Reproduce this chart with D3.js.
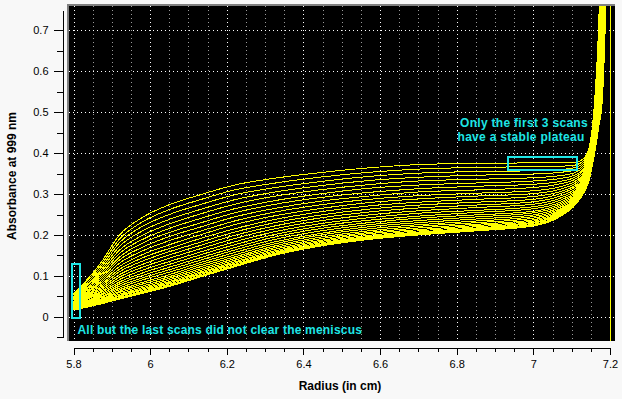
<!DOCTYPE html>
<html><head><meta charset="utf-8">
<script src="https://cdn.jsdelivr.net/npm/d3@7/dist/d3.min.js"></script>
<style>
html,body{margin:0;padding:0;background:#f8f8f8;}
svg{display:block;font-family:"Liberation Sans",Arial,sans-serif;}
</style></head>
<body>
<svg id="chart" width="622" height="399"></svg>
<script>
// radius grid (cm) shared by all scans
const radius = [5.80, 5.87, 5.92, 5.98, 6.05, 6.13, 6.22, 6.32, 6.44, 6.57, 6.70, 6.85, 7.00, 7.07, 7.11, 7.13, 7.145, 7.16, 7.17, 7.18, 7.19];
// absorbance of each scan at those radii (first scan first)
const scans = [
 [.055,.130,.200,.243,.274,.298,.322,.338,.352,.364,.372,.375,.376,.376,.377,.386,.412,.530,.700,1.000,1.300],
 [.053,.124,.190,.232,.262,.286,.310,.326,.341,.353,.361,.365,.367,.368,.371,.381,.407,.522,.685,.971,1.268],
 [.050,.118,.181,.221,.250,.274,.298,.315,.330,.343,.351,.355,.357,.360,.365,.376,.402,.514,.671,.943,1.237],
 [.048,.112,.172,.210,.238,.262,.286,.304,.320,.333,.341,.346,.349,.353,.359,.371,.398,.507,.657,.916,1.207],
 [.046,.107,.163,.199,.227,.251,.275,.294,.310,.323,.332,.336,.340,.345,.353,.366,.393,.500,.644,.890,1.178],
 [.044,.101,.155,.189,.216,.240,.264,.283,.300,.314,.322,.327,.332,.338,.347,.361,.389,.493,.631,.864,1.150],
 [.042,.096,.146,.180,.206,.229,.254,.274,.291,.304,.313,.319,.324,.331,.342,.357,.385,.486,.618,.840,1.123],
 [.040,.091,.139,.170,.196,.219,.244,.264,.282,.295,.305,.310,.316,.325,.337,.352,.381,.479,.606,.816,1.096],
 [.038,.086,.131,.161,.186,.209,.234,.255,.273,.287,.296,.302,.308,.318,.332,.348,.377,.473,.594,.793,1.071],
 [.036,.082,.123,.152,.176,.200,.225,.246,.264,.279,.288,.295,.301,.312,.327,.344,.373,.467,.583,.771,1.046],
 [.034,.077,.116,.144,.167,.191,.215,.237,.256,.271,.280,.287,.294,.306,.322,.340,.369,.461,.572,.750,1.023],
 [.033,.073,.110,.136,.159,.182,.207,.229,.248,.263,.273,.280,.287,.301,.318,.336,.366,.455,.562,.729,1.000],
 [.031,.069,.103,.128,.151,.174,.199,.221,.241,.256,.266,.273,.281,.295,.313,.333,.363,.450,.552,.710,.979],
 [.029,.065,.097,.121,.143,.166,.191,.214,.234,.249,.259,.267,.275,.290,.309,.330,.359,.445,.542,.691,.958],
 [.028,.061,.091,.114,.135,.158,.183,.207,.227,.242,.253,.260,.269,.285,.305,.326,.356,.440,.533,.674,.939],
 [.027,.058,.085,.107,.128,.151,.176,.200,.221,.236,.246,.255,.264,.280,.302,.323,.354,.435,.525,.657,.920],
 [.025,.054,.080,.101,.121,.144,.169,.194,.215,.230,.241,.249,.258,.276,.298,.320,.351,.431,.517,.641,.903],
 [.024,.051,.075,.095,.115,.138,.163,.188,.209,.225,.235,.244,.254,.272,.295,.318,.348,.427,.509,.626,.886],
 [.023,.048,.070,.090,.109,.132,.157,.182,.203,.220,.230,.239,.249,.268,.292,.315,.346,.423,.502,.612,.871],
 [.022,.046,.066,.084,.103,.127,.151,.177,.199,.215,.225,.234,.245,.264,.289,.313,.344,.419,.495,.599,.857],
 [.021,.043,.062,.080,.098,.122,.146,.172,.194,.210,.221,.230,.241,.261,.287,.311,.342,.416,.489,.587,.843],
 [.020,.041,.059,.075,.094,.117,.142,.168,.190,.206,.217,.226,.237,.258,.284,.309,.340,.413,.484,.576,.831],
 [.019,.039,.055,.071,.090,.113,.138,.164,.186,.203,.213,.223,.234,.255,.282,.307,.338,.410,.479,.566,.820],
 [.018,.037,.052,.068,.086,.109,.134,.160,.183,.199,.210,.220,.231,.253,.280,.305,.337,.408,.474,.558,.811],
 [.018,.035,.050,.065,.083,.106,.131,.157,.180,.196,.207,.217,.229,.251,.278,.304,.335,.406,.470,.550,.802],
 [.017,.034,.047,.062,.080,.103,.128,.154,.177,.194,.205,.215,.226,.249,.277,.302,.334,.404,.467,.543,.795],
 [.017,.033,.046,.060,.077,.100,.125,.152,.175,.192,.203,.213,.225,.247,.276,.302,.333,.402,.464,.538,.789],
 [.016,.032,.044,.059,.076,.099,.124,.151,.174,.190,.201,.211,.223,.246,.275,.301,.333,.401,.462,.534,.784],
 [.016,.031,.043,.057,.074,.097,.122,.149,.172,.189,.200,.210,.222,.245,.274,.300,.332,.400,.460,.530,.780]
];
const cellBottom = [7.2];          // vertical marker
const xMajor = [5.8, 6, 6.2, 6.4, 6.6, 6.8, 7, 7.2];
const xMinor = [5.85,5.9,5.95,6.05,6.1,6.15,6.25,6.3,6.35,6.45,6.5,6.55,6.65,6.7,6.75,6.85,6.9,6.95,7.05,7.1,7.15];
const yMajor = [0, 0.1, 0.2, 0.3, 0.4, 0.5, 0.6, 0.7];
const yMinor = [-0.05, 0.05, 0.15, 0.25, 0.35, 0.45, 0.55, 0.65];
const boxMeniscus = [5.795, 5.817, -0.002, 0.13];
const boxPlateau = [6.935, 7.115, 0.36, 0.39];
const noteTop = ["Only the first 3 scans", "have a stable plateau"];
const noteBottom = "All but the last scans did not clear the meniscus";
const xTitle = "Radius (in cm)";
const yTitle = "Absorbance at 999 nm";

const svg = d3.select("#chart");
const W = 622, H = 399;
const plot = {x0: 69, x1: 615, y0: 6, y1: 341};
const x = d3.scaleLinear().domain([5.8, 7.2]).range([73.5, 610]);
const y = d3.scaleLinear().domain([-0.05, 0.75]).range([337.2, 10]);
const cyan = "#1ee6e6";

svg.append("rect").attr("width", W).attr("height", H).attr("fill", "#f8f8f8");
// bevel border + black plot
svg.append("rect").attr("x", plot.x0 - 2).attr("y", plot.y0 - 2)
  .attr("width", plot.x1 - plot.x0 + 2).attr("height", plot.y1 - plot.y0 + 2).attr("fill", "#808080");
svg.append("rect").attr("x", plot.x0).attr("y", plot.y0)
  .attr("width", plot.x1 - plot.x0).attr("height", plot.y1 - plot.y0).attr("fill", "#000");

svg.append("clipPath").attr("id", "clip").append("rect")
  .attr("x", plot.x0).attr("y", plot.y0).attr("width", plot.x1 - plot.x0).attr("height", plot.y1 - plot.y0);

const g = svg.append("g").attr("clip-path", "url(#clip)");
// grid
g.selectAll(".vmin").data(xMinor).join("line")
  .attr("x1", d => Math.round(x(d)) + 0.5).attr("x2", d => Math.round(x(d)) + 0.5)
  .attr("y1", plot.y0).attr("y2", plot.y1)
  .attr("stroke", "#9a9a9a").attr("stroke-dasharray", "1,3").attr("shape-rendering", "crispEdges");
g.selectAll(".vmaj").data(xMajor).join("line")
  .attr("x1", d => Math.round(x(d)) + 0.5).attr("x2", d => Math.round(x(d)) + 0.5)
  .attr("y1", plot.y0).attr("y2", plot.y1)
  .attr("stroke", "#fff").attr("stroke-dasharray", "1,3").attr("shape-rendering", "crispEdges");
g.selectAll(".hmaj").data(yMajor).join("line")
  .attr("y1", d => Math.round(y(d)) + 0.5).attr("y2", d => Math.round(y(d)) + 0.5)
  .attr("x1", plot.x0).attr("x2", plot.x1)
  .attr("stroke", "#fff").attr("stroke-dasharray", "1,3").attr("shape-rendering", "crispEdges");

// scans
const line = d3.line().x((d, i) => x(radius[i])).y(d => y(d)).curve(d3.curveMonotoneX);
g.selectAll(".scan").data(scans.slice().reverse()).join("path")
  .attr("d", line).attr("fill", "none").attr("stroke", "#ffff00").attr("stroke-width", 1)
  .attr("shape-rendering", "crispEdges");
g.selectAll(".cb").data(cellBottom).join("line")
  .attr("x1", d => Math.round(x(d)) + 0.5).attr("x2", d => Math.round(x(d)) + 0.5)
  .attr("y1", plot.y0).attr("y2", plot.y1).attr("stroke", "#ffff00").attr("shape-rendering", "crispEdges");

// boxes
[boxMeniscus, boxPlateau].forEach(b => {
  svg.append("rect").attr("x", x(b[0])).attr("y", y(b[3]))
    .attr("width", x(b[1]) - x(b[0])).attr("height", y(b[2]) - y(b[3]))
    .attr("fill", "none").attr("stroke", cyan).attr("stroke-width", 2).attr("shape-rendering", "crispEdges");
});

// notes
const noteStyle = s => s.attr("fill", cyan).attr("font-weight", "bold").attr("font-size", "12px")
  .attr("letter-spacing", "0.3px");
svg.append("text").attr("x", 460).attr("y", 126.5).text(noteTop[0]).call(noteStyle);
svg.append("text").attr("x", 457.5).attr("y", 140.5).text(noteTop[1]).call(noteStyle);
svg.append("text").attr("x", 77.5).attr("y", 333.5).text(noteBottom).call(noteStyle).attr("letter-spacing", "0.2px");

// axes (minor and major ticks in separate groups)
const xMinG = svg.append("g").attr("transform", "translate(0,347.5)");
xMinG.call(d3.axisBottom(x).tickValues(xMinor).tickSize(4).tickSizeOuter(0).tickFormat(""));
const xAxis = svg.append("g").attr("transform", "translate(0,347.5)");
xAxis.call(d3.axisBottom(x).tickValues(xMajor).tickSize(7).tickSizeOuter(0).tickPadding(0).tickFormat(d3.format("~g")));
xAxis.selectAll("text").attr("y", 20.5).attr("dy", null).attr("font-size", "11px").attr("fill", "#000")
  .attr("font-family", "'Liberation Sans',Arial,sans-serif");

const yMinG = svg.append("g").attr("transform", "translate(62.5,0)");
yMinG.call(d3.axisLeft(y).tickValues(yMinor).tickSize(6).tickSizeOuter(0).tickFormat(""));
const yAxis = svg.append("g").attr("transform", "translate(62.5,0)");
yAxis.call(d3.axisLeft(y).tickValues(yMajor).tickSize(9).tickSizeOuter(0).tickPadding(5).tickFormat(d3.format("~g")));
yAxis.selectAll("text").attr("font-size", "11px").attr("fill", "#000")
  .attr("font-family", "'Liberation Sans',Arial,sans-serif");
svg.selectAll(".domain, .tick line").attr("stroke", "#000").attr("shape-rendering", "crispEdges");

svg.append("text").attr("x", 340).attr("y", 390).attr("text-anchor", "middle")
  .attr("font-weight", "bold").attr("font-size", "12px").attr("fill", "#000").text(xTitle);
svg.append("text").attr("transform", "translate(15.5,176) rotate(-90)").attr("text-anchor", "middle")
  .attr("font-weight", "bold").attr("font-size", "12px").attr("fill", "#000").text(yTitle);
</script>
</body></html>
